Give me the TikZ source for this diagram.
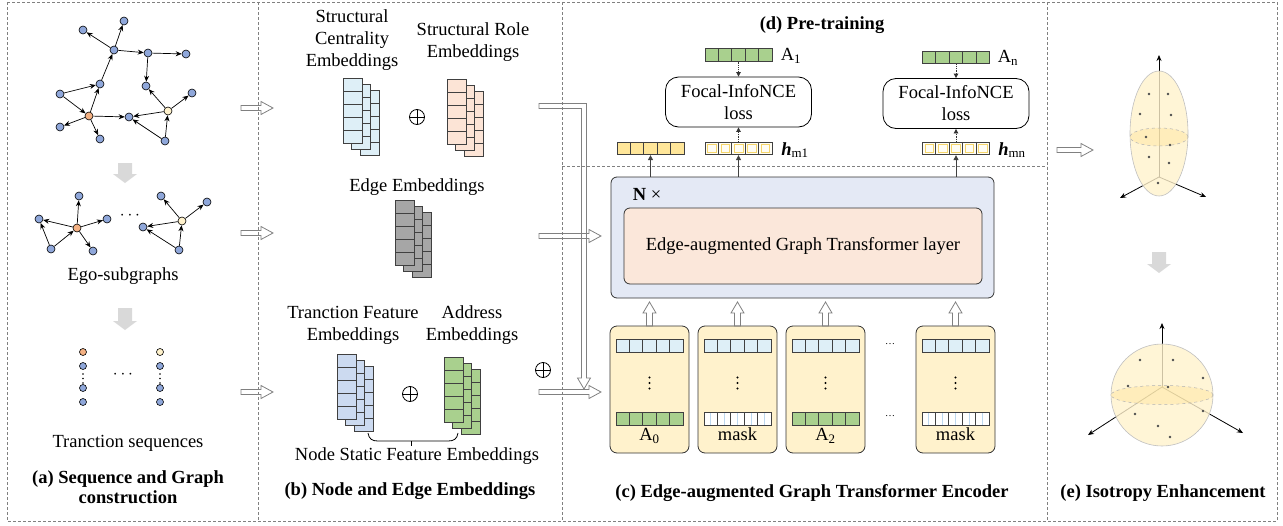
\documentclass[tikz,border=0pt]{standalone}
\usepackage{fontspec}
\setmainfont{Liberation Serif}
\usetikzlibrary{arrows.meta,calc}

\definecolor{nodeblue}{HTML}{8FA7DA}
\definecolor{nodeorange}{HTML}{F4B183}
\definecolor{nodeyellow}{HTML}{FFF2CC}
\definecolor{cellblue}{HTML}{DEEFF7}
\definecolor{cellpeach}{HTML}{FCE4D6}
\definecolor{cellgray}{HTML}{A6A6A6}
\definecolor{cellperi}{HTML}{CCDAF0}
\definecolor{cellgreen}{HTML}{A9D08E}
\definecolor{cellgold}{HTML}{FFE699}
\definecolor{cardfill}{HTML}{FFF2CC}
\definecolor{encfill}{HTML}{E4E9F5}
\definecolor{layerfill}{HTML}{FBE7DA}
\definecolor{framegray}{HTML}{808080}
\definecolor{blockgray}{HTML}{D9D9D9}
\definecolor{gridyellow}{HTML}{F5D56A}
\definecolor{gridblue}{HTML}{BDD7EE}
\definecolor{bandgold}{HTML}{FFE08A}
\definecolor{creamcell}{HTML}{FFFDF4}

\tikzset{
  txt/.style={font=\fontsize{18.5}{22}\selectfont, inner sep=0pt, align=center},
  ttl/.style={font=\fontsize{18.5}{20}\selectfont\bfseries, inner sep=0pt, align=center},
  frame/.style={draw=framegray, line width=0.8pt, dash pattern=on 3pt off 2pt},
  gn/.style={circle, draw=black, line width=0.6pt, minimum size=8pt, inner sep=0pt, fill=nodeblue},
  sn/.style={gn, minimum size=7pt},
  ge/.style={line width=0.7pt, -{Stealth[length=6pt,width=5pt]}},
  hollow/.style={draw=framegray, line width=0.8pt, line join=miter},
  block/.style={fill=blockgray, draw=none},
  cellline/.style={draw=black!75, line width=0.8pt},
  barbox/.style={draw=black!75, line width=0.8pt, minimum width=67pt, minimum height=12.5pt, inner sep=0pt},
  oplus/.style={circle, draw=black, line width=0.8pt, minimum size=15pt, inner sep=0pt,
      path picture={\draw[line width=0.8pt]
        (path picture bounding box.north) -- (path picture bounding box.south)
        (path picture bounding box.west) -- (path picture bounding box.east);}},
  hgrid/.style={fill=creamcell, path picture={
      \foreach \i in {0,...,4}{\draw[gridyellow, line width=0.6pt]
        ($(path picture bounding box.north west)+(\i*13.4+2.4,2.4)$) rectangle ++(8.6,7.7);}}},
  maskgrid/.style={fill=white, path picture={
      \foreach \i in {1,3,5,7,9}{\draw[gridblue, line width=0.6pt]
        ($(path picture bounding box.north west)!\i/10!(path picture bounding box.north east)$) --
        ($(path picture bounding box.south west)!\i/10!(path picture bounding box.south east)$);}}},
  card/.style={draw=black!80, line width=0.8pt, fill=cardfill, rounded corners=7pt, minimum width=79pt, minimum height=127pt, inner sep=0pt},
  lossbox/.style={draw=black, line width=0.8pt, fill=white, rounded corners=13pt, minimum width=146pt, minimum height=50pt, inner sep=0pt, align=center, font=\fontsize{18.5}{22}\selectfont},
  outarrow/.style={draw=black!75, line width=1pt, -{Triangle[length=5pt,width=5pt]}},
  dotarrow/.style={draw=black!80, line width=0.8pt, densely dotted, -{Triangle[length=4.5pt,width=4.5pt]}},
  axisline/.style={line width=0.8pt, -{Stealth[length=6pt,width=5pt]}},
  sdot/.style={fill=black!70},
}

% stack of three embedding layers; #1,#2 = top-left corner of the front layer
\newcommand\embstack[3]{%
  \foreach \k in {2,1,0}{%
    \pgfmathsetmacro\sx{#1+8.5*\k}%
    \pgfmathsetmacro\sy{#2+6*\k}%
    \draw[cellline, fill=#3] (\sx,\sy) rectangle ++(19,65);
    \foreach \j in {1,...,4}{\draw[cellline] (\sx,\sy+13*\j) -- ++(19,0);}
  }}

% five-cell vector bar
\newcommand\vbar[4]{%
  \node[barbox,#4] (#1) at (#2,#3) {};
  \foreach \i in {1,...,4}{\draw[cellline]
    ($(#1.north west)!\i/5!(#1.north east)$) -- ($(#1.south west)!\i/5!(#1.south east)$);}}

% outlined block arrows
\newcommand\hollowR[2]{%
  \draw[hollow] let \p1=(#1), \p2=(#2) in
    (\x1,\y1+2.5pt) -- (\x2-12pt,\y1+2.5pt) -- (\x2-12pt,\y1+6.5pt) -- (\x2,\y1)
    -- (\x2-12pt,\y1-6.5pt) -- (\x2-12pt,\y1-2.5pt) -- (\x1,\y1-2.5pt) -- cycle;}
\newcommand\hollowU[2]{%
  \draw[hollow] let \p1=(#1), \p2=(#2) in
    (\x1-3pt,\y1) -- (\x1-3pt,\y2-11pt) -- (\x1-6.5pt,\y2-11pt) -- (\x1,\y2)
    -- (\x1+6.5pt,\y2-11pt) -- (\x1+3pt,\y2-11pt) -- (\x1+3pt,\y1) -- cycle;}
% solid grey down arrow
\newcommand\grayDown[2]{%
  \fill[block] let \p1=(#1), \p2=(#2) in
    (\x1-7pt,\y1) -- (\x1+7pt,\y1) -- (\x1+7pt,\y2+9pt) -- (\x1+12pt,\y2+9pt) -- (\x1,\y2)
    -- (\x1-12pt,\y2+9pt) -- (\x1-7pt,\y2+9pt) -- cycle;}

\begin{document}
\begin{tikzpicture}[x=1pt,y=-1pt]
\useasboundingbox (0,0) rectangle (1283,525);

% ---------------- frames ----------------
\draw[frame] (7,2) rectangle (1277,521);
\draw[frame] (258,2) -- (258,521);
\draw[frame] (562,2) -- (562,521);
\draw[frame] (1047,2) -- (1047,521);
\draw[frame] (562,166) -- (1047,166);

% ---------------- (a) transaction graph ----------------
\node[gn] (tgA) at (124,21) {};
\node[gn] (tgB) at (83,30) {};
\node[gn] (tgC) at (114,50) {};
\node[gn] (tgD) at (148,53) {};
\node[gn] (tgE) at (186,54) {};
\node[gn] (tgF) at (100,84) {};
\node[gn] (tgG) at (146,86) {};
\node[gn] (tgH) at (60,94) {};
\node[gn] (tgI) at (192,93) {};
\node[gn, fill=nodeorange] (tgO) at (89,116) {};
\node[gn, fill=nodeyellow] (tgY) at (168,111) {};
\node[gn] (tgJ) at (129,117) {};
\node[gn] (tgK) at (60,127) {};
\node[gn] (tgL) at (100,139) {};
\node[gn] (tgM) at (165,141) {};
\foreach \a/\b in {tgC/tgA,tgC/tgB,tgC/tgD,tgD/tgE,tgD/tgG,tgF/tgC,tgH/tgF,tgH/tgO,tgO/tgF,
                   tgO/tgK,tgO/tgL,tgO/tgJ,tgY/tgJ,tgY/tgG,tgY/tgI,tgM/tgJ,tgM/tgY}
  \draw[ge] (\a) -- (\b);

\coordinate (ga1) at (125,163); \coordinate (ga2) at (125,183);
\grayDown{ga1}{ga2}

% ego-subgraphs
\node[gn, fill=nodeorange] (elO) at (77,228) {};
\node[gn] (elT) at (79,196) {};
\node[gn] (elL) at (39,219) {};
\node[gn] (elR) at (107,219) {};
\node[gn] (elBL) at (51,249) {};
\node[gn] (elBR) at (93,251) {};
\foreach \a/\b in {elO/elT,elO/elL,elO/elR,elO/elBR,elBL/elO,elBL/elL}
  \draw[ge] (\a) -- (\b);
\node[txt] (egodots) at (130,216) {$\cdots$};
\node[gn, fill=nodeyellow] (erY) at (182,221) {};
\node[gn] (erTL) at (161,196) {};
\node[gn] (erTR) at (207,202) {};
\node[gn] (erL) at (143,227) {};
\node[gn] (erB) at (179,250) {};
\foreach \a/\b in {erY/erTL,erY/erTR,erY/erL,erB/erL,erB/erY}
  \draw[ge] (\a) -- (\b);
\node[txt] (egolbl) at (123,276) {Ego-subgraphs};

\coordinate (gb1) at (125,308); \coordinate (gb2) at (125,330);
\grayDown{gb1}{gb2}

% transaction sequences
\node[sn, fill=nodeorange] (sqa1) at (83,352) {};
\node[sn] (sqa2) at (83,366) {};
\node[sn] (sqa3) at (83,388) {};
\node[sn] (sqa4) at (83,402) {};
\node[sn, fill=nodeyellow] (sqb1) at (160,352) {};
\node[sn] (sqb2) at (160,366) {};
\node[sn] (sqb3) at (160,388) {};
\node[sn] (sqb4) at (160,402) {};
\foreach \x in {83,160}{\foreach \y in {374,378.5,383}{\fill (\x,\y) circle (0.9pt);}}
\node[txt] (seqdots) at (123,375) {$\cdots$};
\node[txt] (seqlbl) at (128,443) {Tranction sequences};
\node[ttl] (tta) at (128,487) {(a) Sequence and Graph\\construction};

% arrows (a) -> (b)
\coordinate (ab1s) at (241,108); \coordinate (ab1e) at (273,108);
\coordinate (ab2s) at (241,233); \coordinate (ab2e) at (273,233);
\coordinate (ab3s) at (241,392); \coordinate (ab3e) at (273,392);
\hollowR{ab1s}{ab1e}
\hollowR{ab2s}{ab2e}
\hollowR{ab3s}{ab3e}

% ---------------- (b) embeddings ----------------
\node[txt] (sclbl) at (352,40) {Structural\\Centrality\\Embeddings};
\node[txt] (srlbl) at (473,42) {Structural Role\\Embeddings};
\embstack{343}{78}{cellblue}
\embstack{447}{79}{cellpeach}
\node[oplus] (plus1) at (417,117) {};

\node[txt] (edlbl) at (417,187) {Edge Embeddings};
\embstack{395}{200}{cellgray}

\node[txt] (tflbl) at (353,325) {Tranction Feature\\Embeddings};
\node[txt] (adlbl) at (472,325) {Address\\Embeddings};
\embstack{337}{354}{cellperi}
\embstack{444}{357}{cellgreen}
\node[oplus] (plus2) at (410,394) {};
% bracket joining the two node-feature stacks
\draw[line width=0.8pt] (368,433) .. controls (369,439) and (372,441) .. (378,441) -- (448,441)
  .. controls (454,441) and (457,439) .. (458,433);
\draw[line width=0.8pt] (411,441) -- (411,446);
\node[txt] (nslbl) at (417,456) {Node Static Feature Embeddings};
\node[ttl] (ttb) at (410,491) {(b) Node and Edge Embeddings};
\node[oplus] (plus3) at (543,370) {};

% arrows (b) -> (c)
\coordinate (Ls) at (539,106); \coordinate (Lc) at (584,106); \coordinate (Le) at (584,389);
\draw[hollow] let \p1=(Ls), \p2=(Lc), \p3=(Le) in
  (\x1,\y1+2.5pt) -- (\x2+2.5pt,\y1+2.5pt) -- (\x2+2.5pt,\y3+11pt) -- (\x2+6.5pt,\y3+11pt)
  -- (\x2,\y3) -- (\x2-6.5pt,\y3+11pt) -- (\x2-2.5pt,\y3+11pt) -- (\x2-2.5pt,\y1-2.5pt)
  -- (\x1,\y1-2.5pt) -- cycle;
\coordinate (bc2s) at (539,236); \coordinate (bc2e) at (601,236);
\coordinate (bc3s) at (539,392); \coordinate (bc3e) at (601,392);
\hollowR{bc2s}{bc2e}
\hollowR{bc3s}{bc3e}

% ---------------- (c) encoder ----------------
\node[draw=black!80, line width=0.8pt, fill=encfill, rounded corners=6pt,
      minimum width=383pt, minimum height=121pt, inner sep=0pt] (enc) at (802.5,237.5) {};
\node[draw=black!80, line width=0.8pt, fill=layerfill, rounded corners=6pt,
      minimum width=358pt, minimum height=76pt, inner sep=0pt, txt] (layer) at (803,246)
      {Edge-augmented Graph Transformer layer};
\node[txt] (nx) at (647,194) {\textbf{N} ×};

% input cards, each with its hollow arrow up into the encoder
\foreach \c/\x in {1/649.5,2/737.5,3/825.5,4/955.5}{
  \node[card] (card\c) at (\x,389.5) {};
  \vbar{ctop\c}{\x}{346}{fill=cellblue}
  \coordinate (cu\c) at (\x,326);
  \coordinate (cw\c) at (\x,302);
  \hollowU{cu\c}{cw\c}
}
\vbar{cbot1}{649.5}{419}{fill=cellgreen}
\vbar{cbot2}{737.5}{419}{maskgrid}
\vbar{cbot3}{825.5}{419}{fill=cellgreen}
\vbar{cbot4}{955.5}{419}{maskgrid}
\node[txt] (clbl1) at (649.5,436) {A\textsubscript{0}};
\node[txt] (clbl2) at (737.5,434) {mask};
\node[txt] (clbl3) at (825.5,436) {A\textsubscript{2}};
\node[txt] (clbl4) at (955.5,434) {mask};
\foreach \x in {649.5,737.5,825.5,955.5}{\foreach \y in {377.5,383,388.5}{\fill (\x,\y) circle (1.1pt);}}
\node[font=\fontsize{10}{10}\selectfont, inner sep=0pt] (cdots1) at (890,344) {\ldots};
\node[font=\fontsize{10}{10}\selectfont, inner sep=0pt] (cdots2) at (890,416) {\ldots};
\node[ttl] (ttc) at (812,493) {(c) Edge-augmented Graph Transformer Encoder};

% ---------------- (d) pre-training ----------------
\node[ttl] (ttd) at (822,25) {(d) Pre-training};
\vbar{hbar0}{650.5}{148.5}{fill=cellgold}
\vbar{hbar1}{738.5}{148.5}{hgrid}
\vbar{hbarn}{956}{148.5}{hgrid}
\node[txt] (hlbl1) at (795,150) {\textbf{\textit{h}}\textsubscript{m1}};
\node[txt] (hlbln) at (1012,150) {\textbf{\textit{h}}\textsubscript{mn}};
\draw[outarrow] (hbar0.south |- enc.north) -- (hbar0.south);
\draw[outarrow] (hbar1.south |- enc.north) -- (hbar1.south);
\draw[outarrow] (hbarn.south |- enc.north) -- (hbarn.south);

\node[lossbox] (loss1) at (738.5,102) {Focal-InfoNCE\\loss};
\node[lossbox] (lossn) at (956,103.5) {Focal-InfoNCE\\loss};
\vbar{abar1}{738.5}{55}{fill=cellgreen}
\vbar{abarn}{956}{57.5}{fill=cellgreen}
\node[txt] (albl1) at (791,56) {A\textsubscript{1}};
\node[txt] (albln) at (1008,58) {A\textsubscript{n}};
\draw[dotarrow] (abar1.south) -- (loss1.north);
\draw[dotarrow] (abarn.south) -- (lossn.north);
\draw[dotarrow] (hbar1.north) -- (loss1.south);
\draw[dotarrow] (hbarn.north) -- (lossn.south);

% arrow (c) -> (e)
\coordinate (ce1) at (1057,150); \coordinate (ce2) at (1093,150);
\hollowR{ce1}{ce2}

% ---------------- (e) isotropy ----------------
% anisotropic ellipsoid
\coordinate (eo1) at (1159,177);
\coordinate (ez1) at (1159,55);
\coordinate (ex1) at (1120,198);
\coordinate (ey1) at (1206,197);
\draw[axisline] (eo1) -- (ez1);
\draw[axisline] (eo1) -- (ex1);
\draw[axisline] (eo1) -- (ey1);
\fill[cardfill, opacity=0.8] (1159,133.5) ellipse [x radius=29pt, y radius=62.5pt];
\draw[black!25, line width=0.6pt] (1159,133.5) ellipse [x radius=29pt, y radius=62.5pt];
\fill[bandgold, opacity=0.35] (1159,137) ellipse [x radius=29pt, y radius=9pt];
\draw[black!30, line width=0.5pt, dashed] (1159,137) ellipse [x radius=29pt, y radius=9pt];
\foreach \x/\y in {1149/94,1168/94,1140/114,1171/115,1146/137,1170/145,1149/157,1169/163,1158/183}
  \fill[sdot] (\x,\y) circle (1.3pt);

\coordinate (ge1) at (1159,252); \coordinate (ge2) at (1159,273);
\grayDown{ge1}{ge2}

% isotropic sphere
\coordinate (eo2) at (1162,387);
\coordinate (ez2) at (1162,323);
\coordinate (ex2) at (1088,435);
\coordinate (ey2) at (1243,433);
\draw[axisline] (eo2) -- (ez2);
\draw[axisline] (eo2) -- (ex2);
\draw[axisline] (eo2) -- (ey2);
\fill[cardfill, opacity=0.8] (1162,395) circle (51pt);
\draw[black!25, line width=0.6pt] (1162,395) circle (51pt);
\fill[bandgold, opacity=0.35] (1162,395) ellipse [x radius=51pt, y radius=9.5pt];
\draw[black!30, line width=0.5pt, dashed] (1162,395) ellipse [x radius=51pt, y radius=9.5pt];
\foreach \x/\y in {1140/360,1173/360,1203/378,1128/386,1168/387,1203/411,1135/414,1158/426,1170/437}
  \fill[sdot] (\x,\y) circle (1.3pt);

\node[ttl] (tte) at (1163,493) {(e) Isotropy Enhancement};
\end{tikzpicture}
\end{document}
